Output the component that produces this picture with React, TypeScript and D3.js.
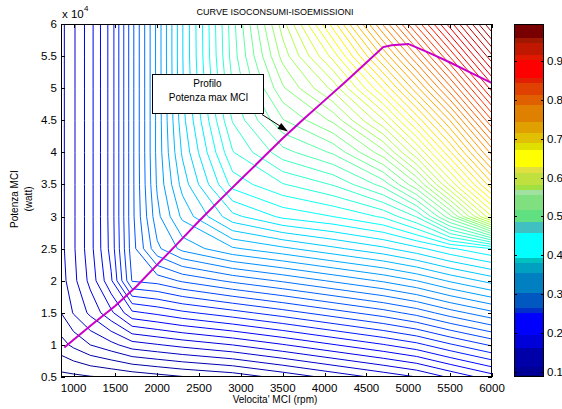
import React, { useRef, useEffect } from "react";
import * as d3 from "d3";

// griglia della mappa (giri, potenza x 10^4 W)
const RPM_NODES = [850, 1000, 1200, 1450, 1700, 2000, 2300, 2900, 3500, 4100, 4700, 5100, 5500, 6000];
const POWER_NODES = [0.5, 1, 1.5, 2, 2.5, 3, 3.5, 4, 4.5, 5, 5.5, 6];

const MAP_VALUES = [
  [0.088, 0.089, 0.091, 0.093, 0.096, 0.100, 0.104, 0.110, 0.122, 0.135, 0.148, 0.157, 0.172, 0.190],
  [0.113, 0.121, 0.131, 0.140, 0.151, 0.156, 0.161, 0.170, 0.182, 0.195, 0.208, 0.218, 0.233, 0.250],
  [0.131, 0.145, 0.160, 0.180, 0.206, 0.212, 0.219, 0.230, 0.242, 0.255, 0.268, 0.279, 0.294, 0.310],
  [0.138, 0.153, 0.174, 0.207, 0.262, 0.266, 0.276, 0.290, 0.302, 0.315, 0.328, 0.339, 0.354, 0.370],
  [0.140, 0.155, 0.178, 0.214, 0.268, 0.310, 0.330, 0.350, 0.362, 0.375, 0.388, 0.400, 0.415, 0.430],
  [0.140, 0.155, 0.178, 0.215, 0.270, 0.322, 0.355, 0.400, 0.420, 0.430, 0.445, 0.470, 0.530, 0.625],
  [0.140, 0.155, 0.178, 0.215, 0.270, 0.328, 0.370, 0.435, 0.455, 0.470, 0.500, 0.545, 0.615, 0.700],
  [0.140, 0.155, 0.178, 0.215, 0.270, 0.330, 0.380, 0.455, 0.490, 0.510, 0.555, 0.610, 0.675, 0.760],
  [0.140, 0.155, 0.178, 0.215, 0.270, 0.330, 0.386, 0.470, 0.520, 0.550, 0.610, 0.668, 0.730, 0.820],
  [0.140, 0.155, 0.178, 0.215, 0.270, 0.330, 0.389, 0.482, 0.545, 0.590, 0.665, 0.725, 0.790, 0.878],
  [0.140, 0.155, 0.178, 0.215, 0.270, 0.330, 0.390, 0.488, 0.565, 0.630, 0.718, 0.781, 0.848, 0.935],
  [0.140, 0.155, 0.178, 0.215, 0.270, 0.330, 0.390, 0.490, 0.580, 0.670, 0.770, 0.837, 0.905, 0.990],
];

const LEVEL_MIN = 0.092;
const LEVEL_MAX = 0.99;
const LEVEL_STEP = 0.013;

// profilo potenza massima
const MAXP_RPM = [890, 1000, 1250, 1500, 1750, 2000, 2250, 2500, 2750, 3000, 3250, 3500, 3750, 4000, 4250, 4500, 4700, 4800, 5000, 5250, 5500, 5750, 6000];
const MAXP_POWER = [0.96, 1.08, 1.35, 1.61, 1.91, 2.25, 2.59, 2.93, 3.26, 3.58, 3.9, 4.22, 4.52, 4.81, 5.1, 5.4, 5.64, 5.67, 5.69, 5.55, 5.4, 5.24, 5.08];

const X_TICKS = [1000, 1500, 2000, 2500, 3000, 3500, 4000, 4500, 5000, 5500, 6000];
const Y_TICKS = [0.5, 1, 1.5, 2, 2.5, 3, 3.5, 4, 4.5, 5, 5.5, 6];
const CB_TICKS = [0.1, 0.2, 0.3, 0.4, 0.5, 0.6, 0.7, 0.8, 0.9];

// bande della colorbar (limiti e colori)
const CB_BOUNDS = [0.0863, 0.092, 0.112, 0.161, 0.195, 0.251, 0.264, 0.303, 0.354, 0.38, 0.393, 0.457, 0.486, 0.516, 0.555, 0.568, 0.581, 0.612, 0.627, 0.671, 0.689, 0.715, 0.744, 0.787, 0.813, 0.844, 0.857, 0.903, 0.916, 0.947, 0.96, 0.996];
const CB_COLORS = ["#00007a", "#000096", "#0000a8", "#0000d8", "#0000ff", "#0030c8", "#0058c0", "#0080c0", "#00a0c0", "#00c0c0", "#00ffff", "#40c0c0", "#60e080", "#80e080", "#a0e0a0", "#a0e040", "#c0e040", "#e0e040", "#ffff00", "#e0e000", "#e0c000", "#e0a000", "#e08000", "#e06000", "#e04000", "#e02000", "#ff0000", "#e01800", "#c01800", "#a01800", "#780000"];

const FONT = "'Liberation Sans', Arial, Helvetica, sans-serif";

// colormap jet per le isolinee
function jet(t: number) {
  const f = (s: number) => Math.max(0, Math.min(1, 1.5 - Math.abs(4 * t - s)));
  return d3.rgb(255 * f(3), 255 * f(2), 255 * f(1)).formatHex();
}

export default function App() {
  const svgRef = useRef<SVGSVGElement>(null);

  useEffect(() => {
    const width = 562, height = 409;
    const plot = { left: 61, right: 492, top: 24, bottom: 377 };
    const cbox = { left: 514, right: 544 };

    const x = d3.scaleLinear().domain([850, 6000]).range([plot.left, plot.right]);
    const y = d3.scaleLinear().domain([0.5, 6]).range([plot.bottom, plot.top]);
    const vmin = CB_BOUNDS[0], vmax = CB_BOUNDS[CB_BOUNDS.length - 1];
    const cb = d3.scaleLinear().domain([vmin, vmax]).range([plot.bottom, plot.top]);

    const svg = d3.select(svgRef.current);
    svg.selectAll("*").remove();

    svg.append("rect").attr("width", width).attr("height", height).attr("fill", "#fff");

    svg.append("clipPath").attr("id", "plot-clip")
      .append("rect")
      .attr("x", plot.left).attr("y", plot.top)
      .attr("width", plot.right - plot.left).attr("height", plot.bottom - plot.top);

    // isolinee
    const nx = RPM_NODES.length, ny = POWER_NODES.length;
    const idxRpm = d3.scaleLinear().domain(d3.range(nx)).range(RPM_NODES).clamp(true);
    const idxPow = d3.scaleLinear().domain(d3.range(ny)).range(POWER_NODES).clamp(true);
    const levels = d3.range(LEVEL_MIN, LEVEL_MAX, LEVEL_STEP);
    const contours = d3.contours().size([nx, ny]).thresholds(levels)(MAP_VALUES.flat());

    const onBorder = (p: number[]) => p[0] <= 0 || p[0] >= nx || p[1] <= 0 || p[1] >= ny;

    const gc = svg.append("g").attr("clip-path", "url(#plot-clip)");
    contours.forEach(c => {
      let d = "";
      c.coordinates.forEach(poly => poly.forEach(ring => {
        let pen = false;
        ring.forEach(p => {
          if (onBorder(p)) { pen = false; return; }
          const px = x(idxRpm(p[0] - 0.5));
          const py = y(idxPow(p[1] - 0.5));
          d += (pen ? "L" : "M") + px.toFixed(2) + "," + py.toFixed(2);
          pen = true;
        });
      }));
      if (!d) return;
      gc.append("path")
        .attr("d", d)
        .attr("fill", "none")
        .attr("stroke", jet((c.value - vmin) / (vmax - vmin)))
        .attr("stroke-width", 1);
    });

    // profilo potenza max
    const line = d3.line<number>()
      .x((_, i) => x(MAXP_RPM[i]))
      .y(d => y(d));
    gc.append("path")
      .attr("d", line(MAXP_POWER))
      .attr("fill", "none")
      .attr("stroke", "#c800c8")
      .attr("stroke-width", 2);

    // assi
    svg.append("rect")
      .attr("x", plot.left + 0.5).attr("y", plot.top + 0.5)
      .attr("width", plot.right - plot.left - 1).attr("height", plot.bottom - plot.top - 1)
      .attr("fill", "none").attr("stroke", "#000").attr("stroke-width", 1);

    const ticks = svg.append("g").attr("stroke", "#000").attr("stroke-width", 1);
    X_TICKS.forEach(t => {
      const px = Math.round(x(t)) + 0.5;
      ticks.append("line").attr("x1", px).attr("x2", px).attr("y1", plot.bottom).attr("y2", plot.bottom - 4);
      ticks.append("line").attr("x1", px).attr("x2", px).attr("y1", plot.top).attr("y2", plot.top + 4);
    });
    Y_TICKS.forEach(t => {
      const py = Math.round(y(t)) + 0.5;
      ticks.append("line").attr("x1", plot.left).attr("x2", plot.left + 4).attr("y1", py).attr("y2", py);
      ticks.append("line").attr("x1", plot.right).attr("x2", plot.right - 4).attr("y1", py).attr("y2", py);
    });

    svg.append("g")
      .selectAll("text")
      .data(X_TICKS)
      .join("text")
      .attr("x", d => x(d))
      .attr("y", 392)
      .attr("text-anchor", "middle")
      .style("font-family", FONT).style("font-size", "11.5px").style("fill", "#000")
      .text(d => d);

    svg.append("g")
      .selectAll("text")
      .data(Y_TICKS)
      .join("text")
      .attr("x", plot.left - 4)
      .attr("y", d => y(d) + 4)
      .attr("text-anchor", "end")
      .style("font-family", FONT).style("font-size", "11.5px").style("fill", "#000")
      .text(d => String(d));

    svg.append("text")
      .attr("x", plot.left + 1).attr("y", 18)
      .style("font-family", FONT).style("font-size", "11.5px")
      .text("x 10");
    svg.append("text")
      .attr("x", 84).attr("y", 11)
      .style("font-family", FONT).style("font-size", "8px")
      .text("4");

    svg.append("text")
      .attr("x", 275).attr("y", 15)
      .attr("text-anchor", "middle")
      .style("font-family", FONT).style("font-size", "9px")
      .text("CURVE ISOCONSUMI-ISOEMISSIONI");

    svg.append("text")
      .attr("x", 275).attr("y", 403)
      .attr("text-anchor", "middle")
      .style("font-family", FONT).style("font-size", "10px")
      .text("Velocita' MCI (rpm)");

    const yl = svg.append("g").attr("transform", "translate(0,199) rotate(-90)");
    yl.append("text").attr("x", 0).attr("y", 18).attr("text-anchor", "middle")
      .style("font-family", FONT).style("font-size", "10px").text("Potenza MCI");
    yl.append("text").attr("x", 0).attr("y", 32).attr("text-anchor", "middle")
      .style("font-family", FONT).style("font-size", "10px").text("(watt)");

    // annotazione
    svg.append("line")
      .attr("x1", 262).attr("y1", 114.5).attr("x2", 280).attr("y2", 126)
      .attr("stroke", "#000").attr("stroke-width", 1);
    svg.append("path")
      .attr("d", "M288,131.5 L277.5,128.8 L281.2,123 Z")
      .attr("fill", "#000");
    svg.append("rect")
      .attr("x", 152.5).attr("y", 74.5).attr("width", 111).attr("height", 39)
      .attr("fill", "#fff").attr("stroke", "#000").attr("stroke-width", 1);
    svg.append("text")
      .attr("x", 207.5).attr("y", 87).attr("text-anchor", "middle")
      .style("font-family", FONT).style("font-size", "10px").text("Profilo");
    svg.append("text")
      .attr("x", 208.5).attr("y", 101).attr("text-anchor", "middle")
      .style("font-family", FONT).style("font-size", "10px").text("Potenza max MCI");

    // colorbar
    const cbg = svg.append("g");
    CB_COLORS.forEach((c, i) => {
      cbg.append("rect")
        .attr("x", cbox.left)
        .attr("y", cb(CB_BOUNDS[i + 1]))
        .attr("width", cbox.right - cbox.left)
        .attr("height", cb(CB_BOUNDS[i]) - cb(CB_BOUNDS[i + 1]))
        .attr("fill", c)
        .attr("shape-rendering", "crispEdges");
    });
    cbg.append("rect")
      .attr("x", cbox.left + 0.5).attr("y", plot.top + 0.5)
      .attr("width", cbox.right - cbox.left - 1).attr("height", plot.bottom - plot.top - 1)
      .attr("fill", "none").attr("stroke", "#000");
    CB_TICKS.forEach(t => {
      const py = Math.round(cb(t)) + 0.5;
      cbg.append("line").attr("x1", cbox.left).attr("x2", cbox.left + 3).attr("y1", py).attr("y2", py).attr("stroke", "#000");
      cbg.append("line").attr("x1", cbox.right).attr("x2", cbox.right - 3).attr("y1", py).attr("y2", py).attr("stroke", "#000");
    });
    cbg.selectAll("text")
      .data(CB_TICKS)
      .join("text")
      .attr("x", cbox.right + 3)
      .attr("y", d => cb(d) + 4)
      .style("font-family", FONT).style("font-size", "11.5px")
      .text(d => d.toFixed(1));
  }, []);

  return (
    <svg
      ref={svgRef}
      width={562}
      height={409}
      style={{ position: "absolute", left: 0, top: 0, display: "block", background: "#fff" }}
    />
  );
}
